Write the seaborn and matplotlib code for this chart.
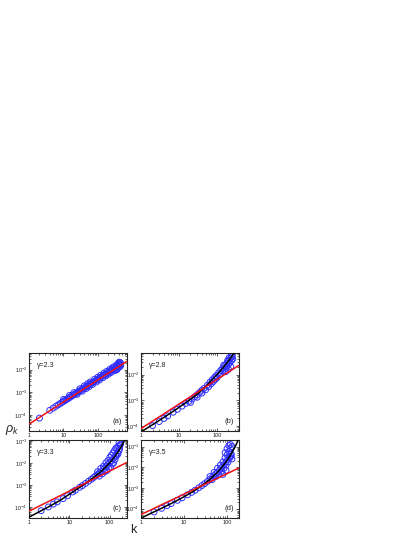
import numpy as np
import pandas as pd
import matplotlib
matplotlib.use("Agg")
import matplotlib.pyplot as plt
import seaborn as sns
from matplotlib.ticker import LogLocator, NullFormatter

# panel (a), gamma = 2.3
k_a_main = [2, 4, 5, 6, 7, 8, 9, 10, 11, 12, 13, 14, 15, 16, 18, 20, 22, 24, 26, 28, 30,
            33, 36, 40, 44, 48, 52, 56, 60, 65, 70, 75, 80, 90, 100, 110, 120, 135, 150,
            165, 180, 200, 220, 240, 260, 290, 320, 350, 380, 410, 440]
rho_a_main = [7.5e-5, 1.65e-4, 2.05e-4, 2.45e-4, 2.84e-4, 3.24e-4, 3.63e-4, 4.03e-4, 4.42e-4,
              4.81e-4, 5.2e-4, 5.58e-4, 5.98e-4, 6.37e-4, 7.14e-4, 7.92e-4, 8.69e-4, 9.46e-4,
              1.02e-3, 1.10e-3, 1.17e-3, 1.29e-3, 1.40e-3, 1.56e-3, 1.71e-3, 1.86e-3, 2.01e-3,
              2.16e-3, 2.31e-3, 2.50e-3, 2.69e-3, 2.87e-3, 3.06e-3, 3.43e-3, 3.80e-3, 4.17e-3,
              4.54e-3, 5.09e-3, 5.65e-3, 6.19e-3, 6.75e-3, 7.48e-3, 8.20e-3, 8.93e-3, 9.66e-3,
              1.07e-2, 1.18e-2, 1.29e-2, 1.40e-2, 1.51e-2, 1.61e-2]
k_a_spread = [10, 15, 20, 30, 40, 50, 60, 80, 100, 120, 150, 180, 220, 260, 300, 350, 400,
              25, 35, 45, 55, 70, 90, 110, 140, 170, 200, 240, 280, 330, 380, 430,
              330, 360, 400, 420, 440, 450, 460]
rho_a_spread = [4.95e-4, 7.35e-4, 9.7e-4, 1.44e-3, 1.92e-3, 2.38e-3, 2.84e-3, 3.76e-3, 4.67e-3,
                5.58e-3, 6.95e-3, 8.3e-3, 1.01e-2, 1.19e-2, 1.35e-2, 1.59e-2, 1.81e-2,
                8.2e-4, 1.13e-3, 1.45e-3, 1.76e-3, 2.23e-3, 2.85e-3, 3.46e-3, 4.38e-3, 5.29e-3,
                6.2e-3, 7.4e-3, 8.6e-3, 1.01e-2, 1.16e-2, 1.31e-2,
                9.3e-3, 1.0e-2, 1.95e-2, 2.1e-2, 1.75e-2, 2.0e-2, 1.5e-2]
k_a_red = [1, 700]
rho_a_red = [4.1e-5, 2.3e-2]

# panel (b), gamma = 2.8
k_b_main = [2, 3, 4, 5, 7, 9, 12, 15, 18, 22, 26, 30, 35, 40, 45, 55, 65, 75, 85, 95,
            110, 125, 140, 160, 180, 200, 230, 250]
rho_b_main = [1.05e-4, 1.51e-4, 2.0e-4, 2.5e-4, 3.47e-4, 4.47e-4, 6.0e-4, 7.6e-4, 9.1e-4,
              1.12e-3, 1.38e-3, 1.66e-3, 2.04e-3, 2.45e-3, 2.88e-3, 3.8e-3, 5.0e-3, 6.3e-3,
              7.6e-3, 9.1e-3, 1.15e-2, 1.45e-2, 1.74e-2, 2.16e-2, 2.67e-2, 3.3e-2, 4.4e-2, 5.0e-2]
k_b_spread = [20, 30, 40, 50, 60, 70, 80, 90, 100, 120, 140, 160, 180, 200, 220, 240,
              150, 190, 210, 240, 260, 170, 200, 230]
rho_b_spread = [8.3e-4, 1.32e-3, 1.91e-3, 2.57e-3, 3.39e-3, 4.37e-3, 5.37e-3, 6.46e-3, 7.6e-3,
                1.02e-2, 1.32e-2, 1.62e-2, 2.04e-2, 2.51e-2, 2.95e-2, 3.47e-2,
                2.3e-2, 3.5e-2, 4.5e-2, 5.2e-2, 4.0e-2, 1.3e-2, 1.6e-2, 2.0e-2]
k_b_red = [1, 380]
rho_b_red = [8.1e-5, 2.29e-2]
k_b_blk = [1, 3, 6.6, 10, 20, 28, 50, 100, 138, 200, 282, 320]
rho_b_blk = [6.03e-5, 1.66e-4, 3.55e-4, 5.37e-4, 1.10e-3, 1.58e-3, 3.39e-3, 1.0e-2, 1.70e-2,
             3.31e-2, 6.92e-2, 9.55e-2]

# panel (c), gamma = 3.3
k_c_main = [2, 3, 4, 5, 7, 9, 12, 14, 18, 21, 25, 30, 35, 40, 45, 50, 55, 60, 70, 80, 90,
            100, 110, 125, 140, 155, 170]
rho_c_main = [6.8e-5, 1.0e-4, 1.35e-4, 1.7e-4, 2.4e-4, 3.24e-4, 4.8e-4, 5.75e-4, 7.8e-4,
              9.3e-4, 1.17e-3, 1.48e-3, 1.82e-3, 2.19e-3, 2.63e-3, 3.0e-3, 3.47e-3, 3.98e-3,
              5.25e-3, 6.6e-3, 8.3e-3, 1.02e-2, 1.26e-2, 1.66e-2, 2.19e-2, 2.8e-2, 3.6e-2]
k_c_spread = [50, 55, 60, 65, 70, 75, 80, 85, 90, 95, 100, 105, 110, 115, 120, 125, 130, 135,
              140, 145, 150, 160, 165, 175, 180, 170, 185]
rho_c_spread = [3.98e-3, 2.51e-3, 5.62e-3, 3.16e-3, 7.08e-3, 3.98e-3, 1.0e-2, 4.47e-3, 1.26e-2,
                5.62e-3, 1.78e-2, 6.31e-3, 2.24e-2, 8.91e-3, 2.82e-2, 1.0e-2, 3.55e-2, 1.41e-2,
                4.47e-2, 2.0e-2, 5.01e-2, 2.51e-2, 5.62e-2, 4.47e-2, 6.31e-2, 8.3e-2, 7.08e-2]
k_c_red = [1, 267]
rho_c_red = [6.46e-5, 1.05e-2]
k_c_blk = [1, 3, 6, 10, 16, 25, 40, 60, 80, 100, 125, 160, 200, 234, 260]
rho_c_blk = [3.47e-5, 1.0e-4, 2.04e-4, 3.8e-4, 6.76e-4, 1.175e-3, 2.19e-3, 3.98e-3, 6.61e-3,
             1.02e-2, 1.66e-2, 3.09e-2, 6.17e-2, 0.107, 0.158]

# panel (d), gamma = 3.5
k_d_main = [2, 3, 4, 5, 7, 9, 12, 15, 18, 22, 26, 30, 35, 40, 45, 50, 55, 60, 67, 75, 85,
            95, 105, 115, 125]
rho_d_main = [6.8e-5, 1.02e-4, 1.38e-4, 1.74e-4, 2.49e-4, 3.3e-4, 4.61e-4, 6.07e-4, 7.67e-4,
              1.01e-3, 1.29e-3, 1.60e-3, 2.06e-3, 2.59e-3, 3.21e-3, 3.94e-3, 4.78e-3, 5.75e-3,
              7.4e-3, 9.7e-3, 1.35e-2, 1.84e-2, 2.49e-2, 3.34e-2, 4.45e-2]
k_d_spread = [40, 45, 50, 55, 60, 65, 70, 75, 80, 85, 90, 90, 95, 100, 100, 105, 110, 110,
              115, 120, 120, 125, 130, 130, 80, 95]
rho_d_spread = [3.55e-3, 2.51e-3, 5.62e-3, 3.55e-3, 8.91e-3, 4.47e-3, 1.26e-2, 6.31e-3, 1.78e-2,
                8.91e-3, 2.82e-2, 5.01e-2, 1.26e-2, 3.98e-2, 7.94e-2, 1.78e-2, 5.62e-2, 0.112,
                2.82e-2, 7.94e-2, 0.126, 3.55e-2, 0.1, 2.51e-2, 4.47e-3, 7.08e-3]
k_d_red = [1, 200]
rho_d_red = [5.13e-5, 9.7e-3]
k_d_blk = [1, 3, 6, 10, 16, 25, 40, 60, 80, 100, 125, 150, 175, 190]
rho_d_blk = [3.47e-5, 1.03e-4, 2.11e-4, 3.72e-4, 6.59e-4, 1.21e-3, 2.59e-3, 5.75e-3, 1.15e-2,
             2.14e-2, 4.45e-2, 8.87e-2, 0.173, 0.255]

gammas = ["2.3", "2.8", "3.3", "3.5"]
tags = ["(a)", "(b)", "(c)", "(d)"]

BLUE = "#2f2fff"
RED = "#ee1111"

sns.set_style("ticks")
plt.rcParams["font.family"] = ["Liberation Sans", "DejaVu Sans"]
plt.rcParams["mathtext.fontset"] = "custom"
plt.rcParams["mathtext.rm"] = "Liberation Sans"
plt.rcParams["mathtext.it"] = "Liberation Sans:italic"


def panel(ax, k_pts, rho_pts, k_red, rho_red, k_blk, rho_blk, xmax, ylim, gamma, tag):
    pts = pd.DataFrame({"k": k_pts, "rho": rho_pts})
    sns.scatterplot(data=pts, x="k", y="rho", ax=ax, marker="o", s=18,
                    facecolor="none", edgecolor=BLUE, linewidth=0.7, legend=False, zorder=2)
    if k_blk is not None:
        sns.lineplot(x=k_blk, y=rho_blk, ax=ax, color="black", lw=1.1,
                     estimator=None, sort=False, zorder=3)
    sns.lineplot(x=k_red, y=rho_red, ax=ax, color=RED, lw=1.1,
                 estimator=None, sort=False, zorder=4)
    ax.set_xscale("log")
    ax.set_yscale("log")
    ax.set_xlim(1, xmax)
    ax.set_ylim(*ylim)
    ax.set_xticks([1, 10, 100])
    ax.set_xticklabels(["1", "10", "100"])
    ax.xaxis.set_minor_locator(LogLocator(subs=np.arange(2, 10)))
    ax.xaxis.set_minor_formatter(NullFormatter())
    ax.yaxis.set_major_locator(LogLocator())
    ax.yaxis.set_minor_locator(LogLocator(subs=np.arange(2, 10)))
    ax.yaxis.set_minor_formatter(NullFormatter())
    ax.tick_params(which="both", direction="in", top=True, right=True,
                   labelsize=4, pad=1.5, width=0.5)
    ax.tick_params(which="major", length=2.5)
    ax.tick_params(which="minor", length=1.3)
    for sp in ax.spines.values():
        sp.set_linewidth(0.8)
    ax.set_xlabel("")
    ax.set_ylabel("")
    ax.text(0.08, 0.85, f"γ={gamma}", transform=ax.transAxes, fontsize=5,
            ha="left", va="center")
    ax.text(0.90, 0.12, tag, transform=ax.transAxes, fontsize=5.5,
            ha="center", va="center")


fig = plt.figure(figsize=(4.15, 5.37), dpi=100)
ax_a = fig.add_axes([0.070, 0.197, 0.236, 0.145])
ax_b = fig.add_axes([0.340, 0.197, 0.236, 0.145])
ax_c = fig.add_axes([0.070, 0.035, 0.236, 0.145])
ax_d = fig.add_axes([0.340, 0.035, 0.236, 0.145])

panel(ax_a, k_a_main + k_a_spread, rho_a_main + rho_a_spread, k_a_red, rho_a_red,
      None, None, 700, (2.0e-5, 5.1e-2), gammas[0], tags[0])
panel(ax_b, k_b_main + k_b_spread, rho_b_main + rho_b_spread, k_b_red, rho_b_red,
      k_b_blk, rho_b_blk, 380, (6.4e-5, 6.6e-2), gammas[1], tags[1])
panel(ax_c, k_c_main + k_c_spread, rho_c_main + rho_c_spread, k_c_red, rho_c_red,
      k_c_blk, rho_c_blk, 267, (3.1e-5, 0.105), gammas[2], tags[2])
panel(ax_d, k_d_main + k_d_spread, rho_d_main + rho_d_spread, k_d_red, rho_d_red,
      k_d_blk, rho_d_blk, 190, (3.4e-5, 0.2), gammas[3], tags[3])

fig.text(0.030, 0.200, r"$\rho_k$", fontsize=9, ha="center", va="center")
fig.text(0.322, 0.013, "k", fontsize=9, ha="center", va="center")

fig.savefig("out.png", dpi=100)
